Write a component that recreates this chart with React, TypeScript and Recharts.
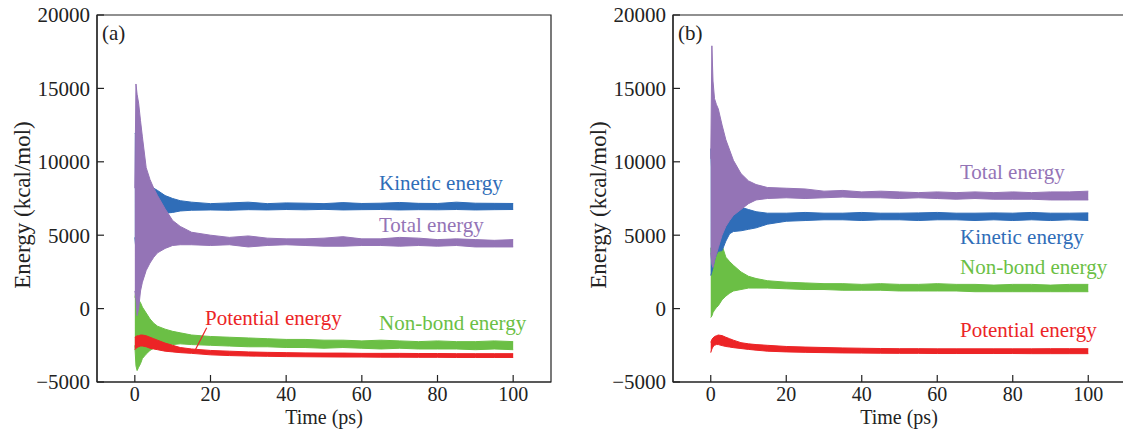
import React from 'react';
import {
  ComposedChart,
  Area,
  XAxis,
  YAxis,
  ReferenceArea,
  ReferenceLine,
} from 'recharts';

// time grid (ps), shared by every series
const times = [0, 0.3, 0.6, 1, 1.5, 2, 3, 4, 5, 6, 8, 10, 12, 15, 20, 25, 30, 35, 40, 45, 50, 55, 60, 65, 70, 75, 80, 85, 90, 95, 100];

// panel (a): lower / upper envelope of each trace (kcal/mol)
const kineticA_lo = [4850, 4000, 3500, 3500, 4000, 4500, 5300, 5800, 6100, 6400, 6500, 6550, 6650, 6700, 6720, 6700, 6740, 6720, 6750, 6730, 6760, 6720, 6740, 6750, 6720, 6740, 6730, 6750, 6720, 6740, 6750];
const kineticA_hi = [11900, 12000, 11000, 10500, 10000, 9600, 9000, 8500, 8200, 8050, 7700, 7500, 7350, 7250, 7150, 7200, 7250, 7150, 7200, 7180, 7150, 7220, 7160, 7180, 7230, 7170, 7160, 7250, 7180, 7170, 7160];
const totalA_lo = [1200, 600, -480, 0, 1200, 1800, 2600, 3100, 3500, 3800, 4100, 4300, 4350, 4350, 4300, 4350, 4200, 4300, 4350, 4300, 4250, 4250, 4300, 4300, 4250, 4300, 4250, 4300, 4200, 4200, 4200];
const totalA_hi = [8200, 15300, 14600, 14000, 12800, 11700, 9600, 8800, 8200, 7700, 6800, 6000, 5600, 5200, 5000, 4850, 4950, 4800, 4750, 4750, 4800, 4900, 4750, 4750, 4850, 4800, 4700, 4750, 4700, 4650, 4700];
const nonbondA_lo = [-2500, -3900, -4220, -4000, -3750, -3400, -3100, -2850, -2700, -2600, -2500, -2450, -2400, -2450, -2500, -2550, -2600, -2600, -2650, -2650, -2700, -2650, -2700, -2750, -2700, -2750, -2750, -2750, -2800, -2750, -2800];
const nonbondA_hi = [750, 1230, 900, 600, 400, 100, -300, -700, -1000, -1200, -1400, -1550, -1650, -1800, -1900, -1950, -2000, -2050, -2100, -2100, -2150, -2150, -2200, -2150, -2200, -2250, -2200, -2250, -2250, -2200, -2250];
const potentialA_lo = [-2800, -2700, -2650, -2600, -2550, -2550, -2600, -2700, -2750, -2800, -2900, -2950, -3000, -3050, -3150, -3200, -3230, -3250, -3270, -3280, -3290, -3300, -3300, -3310, -3310, -3320, -3320, -3330, -3330, -3330, -3330];
const potentialA_hi = [-1950, -1900, -1850, -1850, -1800, -1800, -1850, -1950, -2050, -2150, -2350, -2500, -2650, -2750, -2850, -2900, -2950, -2980, -3000, -3020, -3030, -3030, -3050, -3050, -3050, -3060, -3060, -3070, -3070, -3070, -3070];

// panel (b)
const kineticB_lo = [2250, 2500, 2800, 3270, 3700, 3900, 3950, 4600, 5100, 5250, 5300, 5400, 5500, 5750, 5950, 6000, 6050, 6050, 6000, 6050, 6050, 6000, 6050, 6050, 6000, 6050, 6000, 6050, 6000, 6050, 6000];
const kineticB_hi = [10900, 9000, 7500, 6000, 5800, 6000, 6300, 6600, 6700, 6850, 6900, 6750, 6600, 6500, 6500, 6550, 6500, 6500, 6550, 6500, 6500, 6520, 6550, 6500, 6500, 6520, 6500, 6550, 6500, 6500, 6520];
const totalB_lo = [3800, 3000, 2800, 3270, 3700, 4150, 5000, 5600, 6000, 6350, 6750, 7150, 7400, 7500, 7550, 7500, 7550, 7600, 7550, 7550, 7500, 7550, 7500, 7450, 7500, 7450, 7450, 7450, 7400, 7400, 7400];
const totalB_hi = [10200, 17900, 15500, 14300, 13900, 13600, 12500, 11500, 10800, 10100, 9200, 8700, 8450, 8250, 8200, 8150, 8000, 8050, 7950, 8000, 7950, 7900, 7950, 7900, 7950, 7900, 7950, 7900, 7950, 7950, 8000];
const nonbondB_lo = [-610, -500, -270, -100, 70, 200, 600, 850, 1050, 1200, 1300, 1400, 1400, 1400, 1350, 1300, 1300, 1250, 1250, 1250, 1200, 1200, 1200, 1200, 1150, 1150, 1150, 1150, 1150, 1150, 1150];
const nonbondB_hi = [4150, 3000, 3800, 3950, 4000, 4100, 4300, 3500, 3200, 2950, 2500, 2200, 2050, 1900, 1800, 1750, 1700, 1700, 1650, 1700, 1650, 1650, 1700, 1650, 1650, 1600, 1650, 1650, 1600, 1650, 1650];
const potentialB_lo = [-3000, -2750, -2600, -2500, -2450, -2450, -2520, -2580, -2620, -2660, -2720, -2780, -2830, -2900, -2950, -2980, -3000, -3020, -3030, -3040, -3050, -3050, -3060, -3060, -3060, -3060, -3060, -3070, -3070, -3070, -3070];
const potentialB_hi = [-2300, -2100, -2000, -1900, -1850, -1800, -1840, -1950, -2050, -2150, -2320, -2400, -2450, -2500, -2580, -2620, -2650, -2680, -2700, -2720, -2730, -2730, -2740, -2740, -2740, -2740, -2740, -2740, -2730, -2730, -2730];

const xTicks = [0, 20, 40, 60, 80, 100];
const yTicks = [-5000, 0, 5000, 10000, 15000, 20000];

const BLUE = '#2f6db8';
const PURPLE = '#9474b6';
const GREEN = '#6bbf45';
const RED = '#ec2426';
const AXIS = '#222';
const FONT = 'Liberation Serif, DejaVu Serif, serif';

const build = (k0, k1, t0, t1, n0, n1, p0, p1) =>
  times.map((t, i) => ({
    t,
    kinetic: [k0[i], k1[i]],
    total: [t0[i], t1[i]],
    nonbond: [n0[i], n1[i]],
    potential: [p0[i], p1[i]],
  }));

const dataA = build(kineticA_lo, kineticA_hi, totalA_lo, totalA_hi, nonbondA_lo, nonbondA_hi, potentialA_lo, potentialA_hi);
const dataB = build(kineticB_lo, kineticB_hi, totalB_lo, totalB_hi, nonbondB_lo, nonbondB_hi, potentialB_lo, potentialB_hi);

const fmt = (v: number) => (v < 0 ? `\u2212${Math.abs(v)}` : `${v}`);
const txt = { fontFamily: FONT };

const XTick = (props: any) => {
  const { x, y, payload } = props;
  return (
    <g>
      <line x1={x} x2={x} y1={y - 5} y2={y - 12} stroke={AXIS} strokeWidth={1.2} />
      <text x={x} y={y} dy="0.71em" textAnchor="middle" style={txt} fontSize={20} fill={AXIS}>
        {fmt(payload.value)}
      </text>
    </g>
  );
};

const YTick = (props: any) => {
  const { x, y, payload } = props;
  return (
    <g>
      <line x1={x + 7} x2={x + 14} y1={y} y2={y} stroke={AXIS} strokeWidth={1.2} />
      <text x={x} y={y} dy="0.35em" textAnchor="end" style={txt} fontSize={21} fill={AXIS}>
        {fmt(payload.value)}
      </text>
    </g>
  );
};

const series = (key: string, color: string) => (
  <Area
    key={key}
    dataKey={key}
    type="linear"
    stroke={color}
    strokeWidth={1}
    fill={color}
    fillOpacity={1}
    dot={false}
    activeDot={false}
    isAnimationActive={false}
  />
);

const Panel = ({ data, width, margin, leader }: any) => (
  <ComposedChart width={width} height={429} data={data} margin={margin}>
    <XAxis
      dataKey="t"
      type="number"
      domain={[-10, 110]}
      ticks={xTicks}
      allowDataOverflow
      axisLine={{ stroke: AXIS, strokeWidth: 1.2 }}
      tickLine={false}
      tickSize={0}
      tickMargin={5}
      height={40}
      tick={(p: any) => <XTick {...p} />}
    />
    <YAxis
      type="number"
      domain={[-5000, 20000]}
      ticks={yTicks}
      allowDataOverflow
      axisLine={{ stroke: AXIS, strokeWidth: 1.2 }}
      tickLine={false}
      tickSize={0}
      tickMargin={7}
      width={60}
      tick={(p: any) => <YTick {...p} />}
    />
    {series('nonbond', GREEN)}
    {series('kinetic', BLUE)}
    {series('total', PURPLE)}
    {series('potential', RED)}
    {leader && (
      <ReferenceLine segment={leader} stroke={RED} strokeWidth={1.2} ifOverflow="visible" />
    )}
    <ReferenceArea x1={-10} x2={110} y1={-5000} y2={20000} fill="none" stroke={AXIS} strokeWidth={1.2} ifOverflow="visible" />
  </ComposedChart>
);

const T = ({ x, y, color = AXIS, size = 21, children, anchor = 'start', rotate }: any) => (
  <text
    x={x}
    y={y}
    fill={color}
    fontSize={size}
    style={txt}
    textAnchor={anchor}
    dominantBaseline="central"
    transform={rotate ? `rotate(-90 ${x} ${y})` : undefined}
  >
    {children}
  </text>
);

export default function App() {
  return (
    <div style={{ position: 'fixed', left: 0, top: 0, width: 1123, height: 429, overflow: 'hidden', background: '#fff' }}>
      <div style={{ position: 'absolute', left: 0, top: 0 }}>
        <Panel data={dataA} width={570} margin={{ top: 15, right: 19, bottom: 7, left: 37 }} leader={[{ x: 15.9, y: -2860 }, { x: 19, y: -1300 }]} />
      </div>
      <div style={{ position: 'absolute', left: 560, top: 0 }}>
        <Panel data={dataB} width={580} margin={{ top: 15, right: 14, bottom: 7, left: 53 }} />
      </div>
      <svg width={1123} height={429} style={{ position: 'absolute', left: 0, top: 0, pointerEvents: 'none' }}>
        <T x={102} y={33}>(a)</T>
        <T x={678} y={33}>(b)</T>
        <T x={22} y={205} size={23} anchor="middle" rotate>Energy (kcal/mol)</T>
        <T x={598} y={205} size={23} anchor="middle" rotate>Energy (kcal/mol)</T>
        <T x={324} y={417} size={20} anchor="middle">Time (ps)</T>
        <T x={899} y={417} size={20} anchor="middle">Time (ps)</T>

        <T x={379} y={183} color={BLUE}>Kinetic energy</T>
        <T x={379} y={225} color={PURPLE}>Total energy</T>
        <T x={205} y={318} color={RED}>Potential energy</T>
        <T x={379} y={323} color={GREEN}>Non-bond energy</T>

        <T x={960} y={172} color={PURPLE}>Total energy</T>
        <T x={960} y={237} color={BLUE}>Kinetic energy</T>
        <T x={960} y={267} color={GREEN}>Non-bond energy</T>
        <T x={960} y={330} color={RED}>Potential energy</T>
      </svg>
    </div>
  );
}
